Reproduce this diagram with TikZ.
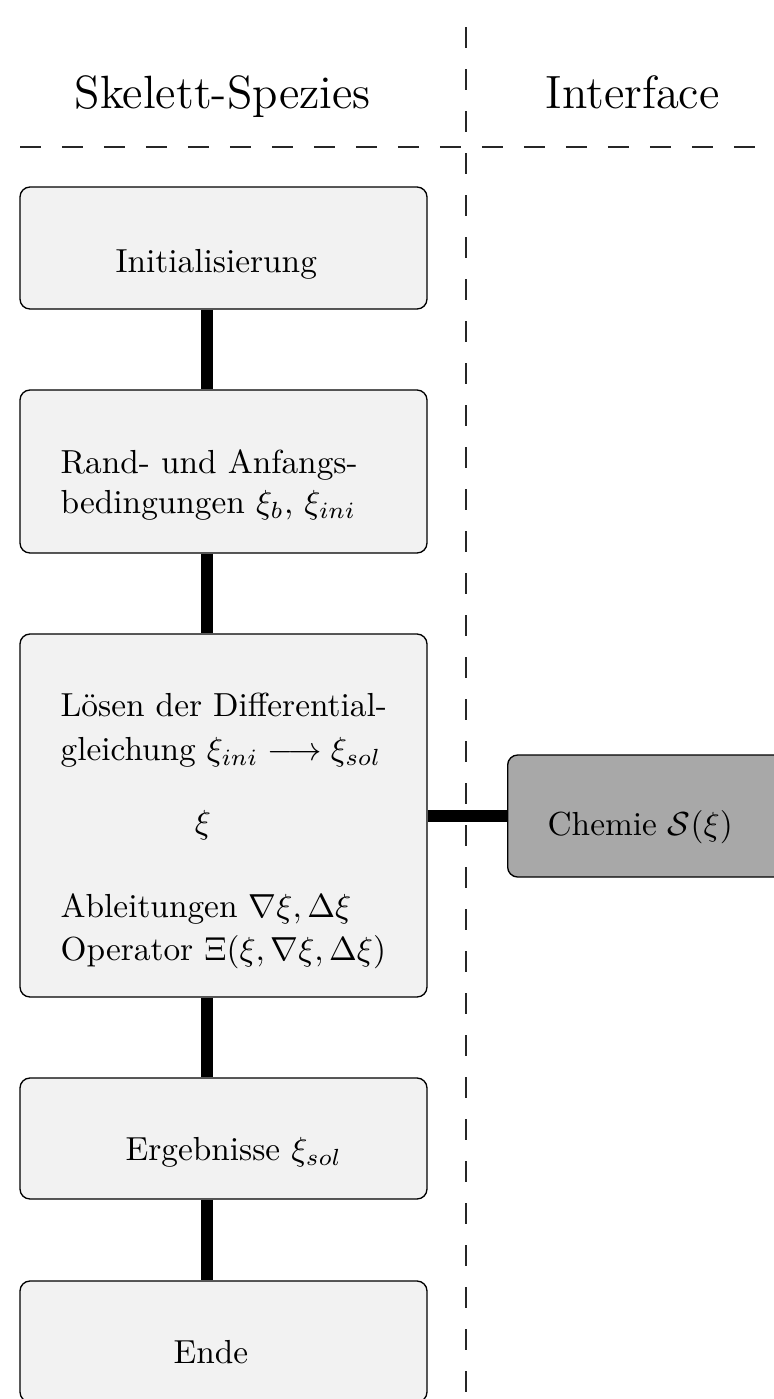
\documentclass[tikz,border=0pt]{standalone}
\usepackage{amsmath}
\begin{document}
\begin{tikzpicture}[x=0.3pt, y=-0.3pt, line join=round,
    stepbox/.style={draw, line width=0.4pt, rounded corners=3pt, fill=boxgray,
      minimum width=122.1pt, inner sep=0pt},
    chembox/.style={stepbox, fill=chemgray},
    lbl/.style={inner sep=0pt, anchor=base west},
    head/.style={lbl, font=\fontsize{14}{17}\selectfont},
    link/.style={line width=3.6pt},
    sep/.style={line width=0.45pt, black!85, dash pattern=on 6.3pt off 6.3pt}]
  \definecolor{boxgray}{RGB}{242,242,242}
  \definecolor{chemgray}{RGB}{168,168,168}
  \useasboundingbox (0,0) rectangle (774,1399);
  \clip (0,0) rectangle (774,1399);
  \draw[sep] (20,147) -- (800,147);
  \draw[sep] (466,27) -- (466,1420);
  \node[head] (skel) at (74,108) {Skelett-Spezies};
  \node[head] (intf) at (545,108) {Interface};
  \coordinate (spine) at (206.5,0);
  \node[stepbox, minimum height=36.6pt] (init) at (223.5,248) {};
  \node[stepbox, minimum height=48.9pt] (rand) at (223.5,471.5) {};
  \node[stepbox, minimum height=108.9pt] (solve) at (223.5,815.5) {};
  \node[stepbox, minimum height=36.3pt] (result) at (223.5,1138.5) {};
  \node[stepbox, minimum height=36.3pt] (ende) at (223.5,1341.5) {};
  \node[chembox, minimum height=36.6pt, anchor=west] (chem) at (507,816) {};
  \node[lbl] (initlbl) at (115,272) {Initialisierung};
  \node[lbl] (randa) at (60,473) {Rand- und Anfangs-};
  \node[lbl] (randb) at (60,513) {bedingungen $\xi_b$, $\xi_{ini}$};
  \node[lbl] (solvea) at (60,716) {Lösen der Differential-};
  \node[lbl] (solveb) at (60,760) {gleichung $\xi_{ini}\longrightarrow\xi_{sol}$};
  \node[inner sep=0pt, anchor=base] (solvexi) at (203,833) {$\xi$};
  \node[lbl] (solvec) at (60,917) {Ableitungen $\nabla\xi,\Delta\xi$};
  \node[lbl] (solved) at (60,960) {Operator $\Xi(\xi,\nabla\xi,\Delta\xi)$};
  \node[lbl] (resultlbl) at (125,1160) {Ergebnisse $\xi_{sol}$};
  \node[lbl] (endelbl) at (173,1363) {Ende};
  \node[lbl] (chemlbl) at (547,835) {Chemie $\mathcal{S}(\xi)$};
  \draw[link] (init.south -| spine) -- (rand.north -| spine);
  \draw[link] (rand.south -| spine) -- (solve.north -| spine);
  \draw[link] (solve.south -| spine) -- (result.north -| spine);
  \draw[link] (result.south -| spine) -- (ende.north -| spine);
  \draw[link] (solve.east |- chem.west) -- (chem.west);
\end{tikzpicture}
\end{document}
